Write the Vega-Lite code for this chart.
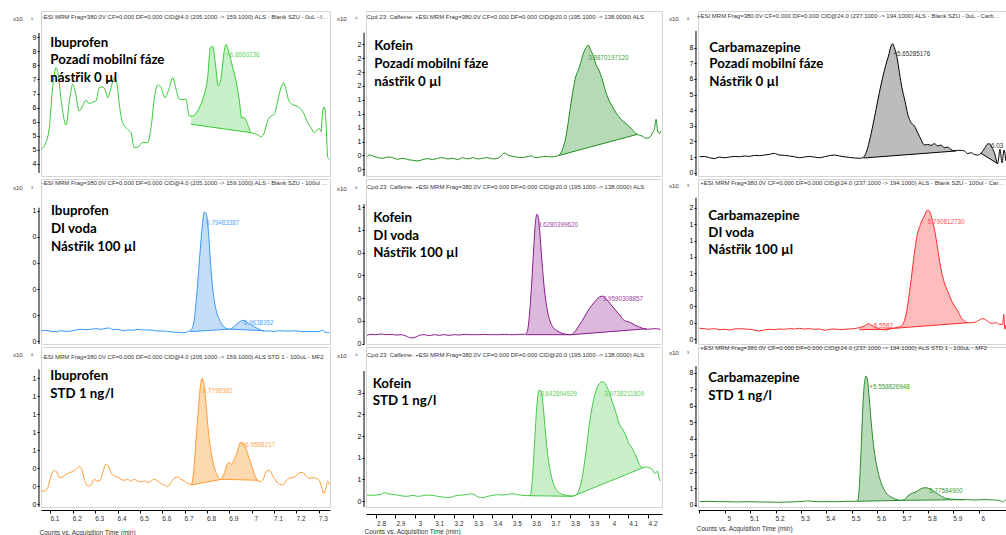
{
"$schema": "https://vega.github.io/schema/vega-lite/v6.json",
"padding": {"left": 12, "top": 10, "right": 0, "bottom": 0},
"bounds": "flush",
"columns": 3,
"spacing": {"row": 3, "column": 36},
"align": "each",
"config": {"view": {"stroke": "#d4d4d4", "strokeWidth": 1}, "font": "Liberation Sans", "axis": {"labelFont": "Liberation Sans", "titleFont": "Liberation Sans"}},
"datasets": {
"trace": [
{"p":"A","t":6.040,"v":5.02},{"p":"A","t":6.062,"v":5.26},{"p":"A","t":6.077,"v":5.79},{"p":"A","t":6.092,"v":7.21},{"p":"A","t":6.107,"v":7.92},{"p":"A","t":6.117,"v":7.68},{"p":"A","t":6.129,"v":6.85},{"p":"A","t":6.152,"v":5.88},{"p":"A","t":6.167,"v":6.73},{"p":"A","t":6.182,"v":7.33},{"p":"A","t":6.192,"v":7.09},{"p":"A","t":6.211,"v":6.38},{"p":"A","t":6.226,"v":6.56},{"p":"A","t":6.241,"v":6.76},{"p":"A","t":6.256,"v":6.64},{"p":"A","t":6.271,"v":6.70},{"p":"A","t":6.286,"v":6.73},{"p":"A","t":6.301,"v":7.21},{"p":"A","t":6.316,"v":7.23},{"p":"A","t":6.331,"v":7.03},{"p":"A","t":6.338,"v":6.85},{"p":"A","t":6.353,"v":7.21},{"p":"A","t":6.368,"v":7.56},{"p":"A","t":6.380,"v":7.33},{"p":"A","t":6.390,"v":6.62},{"p":"A","t":6.405,"v":5.97},{"p":"A","t":6.427,"v":5.73},{"p":"A","t":6.442,"v":5.61},{"p":"A","t":6.457,"v":5.08},{"p":"A","t":6.472,"v":5.10},{"p":"A","t":6.495,"v":5.26},{"p":"A","t":6.517,"v":5.26},{"p":"A","t":6.532,"v":5.79},{"p":"A","t":6.547,"v":6.85},{"p":"A","t":6.562,"v":7.30},{"p":"A","t":6.577,"v":7.21},{"p":"A","t":6.594,"v":6.85},{"p":"A","t":6.614,"v":7.21},{"p":"A","t":6.629,"v":7.56},{"p":"A","t":6.644,"v":7.15},{"p":"A","t":6.658,"v":6.79},{"p":"A","t":6.673,"v":6.79},{"p":"A","t":6.688,"v":6.79},{"p":"A","t":6.703,"v":6.20},{"p":"A","t":6.718,"v":6.20},{"p":"A","t":6.740,"v":6.38},{"p":"A","t":6.755,"v":6.62},{"p":"A","t":6.770,"v":6.97},{"p":"A","t":6.785,"v":7.56},{"p":"A","t":6.797,"v":8.63},{"p":"A","t":6.807,"v":8.68},{"p":"A","t":6.818,"v":8.15},{"p":"A","t":6.833,"v":7.27},{"p":"A","t":6.845,"v":7.56},{"p":"A","t":6.857,"v":8.39},{"p":"A","t":6.867,"v":8.74},{"p":"A","t":6.878,"v":8.51},{"p":"A","t":6.897,"v":7.92},{"p":"A","t":6.912,"v":7.44},{"p":"A","t":6.927,"v":6.73},{"p":"A","t":6.937,"v":6.14},{"p":"A","t":6.949,"v":6.14},{"p":"A","t":6.964,"v":5.91},{"p":"A","t":6.979,"v":5.61},{"p":"A","t":6.994,"v":5.58},{"p":"A","t":7.009,"v":5.53},{"p":"A","t":7.024,"v":5.46},{"p":"A","t":7.038,"v":5.61},{"p":"A","t":7.053,"v":6.02},{"p":"A","t":7.068,"v":6.20},{"p":"A","t":7.083,"v":6.26},{"p":"A","t":7.098,"v":6.73},{"p":"A","t":7.113,"v":7.21},{"p":"A","t":7.125,"v":7.38},{"p":"A","t":7.135,"v":7.15},{"p":"A","t":7.146,"v":6.79},{"p":"A","t":7.161,"v":6.62},{"p":"A","t":7.180,"v":6.56},{"p":"A","t":7.195,"v":6.50},{"p":"A","t":7.217,"v":6.26},{"p":"A","t":7.232,"v":5.97},{"p":"A","t":7.247,"v":5.79},{"p":"A","t":7.262,"v":5.61},{"p":"A","t":7.277,"v":5.73},{"p":"A","t":7.284,"v":5.76},{"p":"A","t":7.292,"v":5.65},{"p":"A","t":7.299,"v":6.38},{"p":"A","t":7.307,"v":6.52},{"p":"A","t":7.314,"v":5.97},{"p":"A","t":7.322,"v":4.72},{"p":"A","t":7.329,"v":4.67},
{"p":"B","t":2.728,"v":0.722},{"p":"B","t":2.740,"v":0.758},{"p":"B","t":2.757,"v":0.740},{"p":"B","t":2.783,"v":0.710},{"p":"B","t":2.809,"v":0.698},{"p":"B","t":2.834,"v":0.722},{"p":"B","t":2.860,"v":0.710},{"p":"B","t":2.886,"v":0.680},{"p":"B","t":2.912,"v":0.698},{"p":"B","t":2.937,"v":0.674},{"p":"B","t":2.963,"v":0.662},{"p":"B","t":2.989,"v":0.650},{"p":"B","t":3.015,"v":0.674},{"p":"B","t":3.041,"v":0.692},{"p":"B","t":3.066,"v":0.674},{"p":"B","t":3.092,"v":0.698},{"p":"B","t":3.118,"v":0.710},{"p":"B","t":3.144,"v":0.686},{"p":"B","t":3.169,"v":0.698},{"p":"B","t":3.195,"v":0.674},{"p":"B","t":3.221,"v":0.710},{"p":"B","t":3.247,"v":0.686},{"p":"B","t":3.273,"v":0.710},{"p":"B","t":3.298,"v":0.686},{"p":"B","t":3.324,"v":0.698},{"p":"B","t":3.350,"v":0.710},{"p":"B","t":3.376,"v":0.686},{"p":"B","t":3.401,"v":0.698},{"p":"B","t":3.419,"v":0.740},{"p":"B","t":3.436,"v":0.794},{"p":"B","t":3.453,"v":0.758},{"p":"B","t":3.470,"v":0.740},{"p":"B","t":3.496,"v":0.722},{"p":"B","t":3.522,"v":0.710},{"p":"B","t":3.547,"v":0.722},{"p":"B","t":3.573,"v":0.740},{"p":"B","t":3.599,"v":0.710},{"p":"B","t":3.625,"v":0.722},{"p":"B","t":3.651,"v":0.734},{"p":"B","t":3.676,"v":0.722},{"p":"B","t":3.702,"v":0.734},{"p":"B","t":3.719,"v":0.758},{"p":"B","t":3.736,"v":0.860},{"p":"B","t":3.754,"v":1.100},{"p":"B","t":3.771,"v":1.490},{"p":"B","t":3.788,"v":1.880},{"p":"B","t":3.805,"v":2.180},{"p":"B","t":3.822,"v":2.330},{"p":"B","t":3.834,"v":2.480},{"p":"B","t":3.848,"v":2.630},{"p":"B","t":3.860,"v":2.702},{"p":"B","t":3.869,"v":2.738},{"p":"B","t":3.879,"v":2.660},{"p":"B","t":3.891,"v":2.570},{"p":"B","t":3.908,"v":2.390},{"p":"B","t":3.925,"v":2.270},{"p":"B","t":3.943,"v":2.090},{"p":"B","t":3.960,"v":1.880},{"p":"B","t":3.977,"v":1.730},{"p":"B","t":3.994,"v":1.622},{"p":"B","t":4.011,"v":1.520},{"p":"B","t":4.037,"v":1.400},{"p":"B","t":4.063,"v":1.322},{"p":"B","t":4.089,"v":1.238},{"p":"B","t":4.114,"v":1.142},{"p":"B","t":4.132,"v":1.112},{"p":"B","t":4.149,"v":1.094},{"p":"B","t":4.166,"v":1.058},{"p":"B","t":4.183,"v":1.070},{"p":"B","t":4.200,"v":1.160},{"p":"B","t":4.209,"v":1.220},{"p":"B","t":4.218,"v":1.400},{"p":"B","t":4.226,"v":1.190},{"p":"B","t":4.235,"v":1.142},{"p":"B","t":4.243,"v":1.190},
{"p":"C","t":4.885,"v":1.02},{"p":"C","t":4.904,"v":1.04},{"p":"C","t":4.924,"v":0.96},{"p":"C","t":4.944,"v":0.90},{"p":"C","t":4.963,"v":1.00},{"p":"C","t":4.983,"v":0.96},{"p":"C","t":5.003,"v":1.00},{"p":"C","t":5.022,"v":1.04},{"p":"C","t":5.042,"v":1.02},{"p":"C","t":5.062,"v":1.07},{"p":"C","t":5.081,"v":1.04},{"p":"C","t":5.101,"v":1.11},{"p":"C","t":5.121,"v":1.09},{"p":"C","t":5.140,"v":1.13},{"p":"C","t":5.160,"v":1.17},{"p":"C","t":5.180,"v":1.24},{"p":"C","t":5.199,"v":1.13},{"p":"C","t":5.219,"v":1.11},{"p":"C","t":5.239,"v":1.07},{"p":"C","t":5.259,"v":1.02},{"p":"C","t":5.278,"v":0.96},{"p":"C","t":5.298,"v":1.00},{"p":"C","t":5.318,"v":1.04},{"p":"C","t":5.337,"v":1.00},{"p":"C","t":5.357,"v":0.96},{"p":"C","t":5.377,"v":1.02},{"p":"C","t":5.396,"v":1.09},{"p":"C","t":5.416,"v":1.13},{"p":"C","t":5.436,"v":1.07},{"p":"C","t":5.455,"v":1.02},{"p":"C","t":5.475,"v":0.98},{"p":"C","t":5.495,"v":0.94},{"p":"C","t":5.514,"v":0.92},{"p":"C","t":5.528,"v":0.96},{"p":"C","t":5.541,"v":1.28},{"p":"C","t":5.554,"v":2.03},{"p":"C","t":5.567,"v":2.99},{"p":"C","t":5.580,"v":4.05},{"p":"C","t":5.593,"v":5.12},{"p":"C","t":5.606,"v":6.08},{"p":"C","t":5.619,"v":6.93},{"p":"C","t":5.629,"v":7.46},{"p":"C","t":5.639,"v":8.10},{"p":"C","t":5.646,"v":8.25},{"p":"C","t":5.652,"v":8.00},{"p":"C","t":5.663,"v":7.36},{"p":"C","t":5.672,"v":6.40},{"p":"C","t":5.682,"v":5.44},{"p":"C","t":5.694,"v":4.58},{"p":"C","t":5.705,"v":3.73},{"p":"C","t":5.718,"v":3.20},{"p":"C","t":5.731,"v":2.99},{"p":"C","t":5.744,"v":2.56},{"p":"C","t":5.757,"v":2.13},{"p":"C","t":5.770,"v":1.77},{"p":"C","t":5.783,"v":1.81},{"p":"C","t":5.797,"v":1.75},{"p":"C","t":5.810,"v":1.86},{"p":"C","t":5.823,"v":1.71},{"p":"C","t":5.836,"v":1.77},{"p":"C","t":5.849,"v":1.60},{"p":"C","t":5.862,"v":1.64},{"p":"C","t":5.875,"v":1.49},{"p":"C","t":5.888,"v":1.40},{"p":"C","t":5.902,"v":1.43},{"p":"C","t":5.915,"v":1.43},{"p":"C","t":5.928,"v":1.39},{"p":"C","t":5.941,"v":1.22},{"p":"C","t":5.954,"v":1.28},{"p":"C","t":5.967,"v":1.17},{"p":"C","t":5.980,"v":1.13},{"p":"C","t":5.993,"v":1.24},{"p":"C","t":6.007,"v":1.54},{"p":"C","t":6.017,"v":1.81},{"p":"C","t":6.026,"v":1.86},{"p":"C","t":6.035,"v":1.64},{"p":"C","t":6.046,"v":1.28},{"p":"C","t":6.059,"v":0.58},{"p":"C","t":6.068,"v":1.49},{"p":"C","t":6.076,"v":0.64},{"p":"C","t":6.084,"v":1.45},{"p":"C","t":6.091,"v":0.75},
{"p":"D","t":6.040,"v":0.077},{"p":"D","t":6.062,"v":0.082},{"p":"D","t":6.085,"v":0.074},{"p":"D","t":6.107,"v":0.072},{"p":"D","t":6.129,"v":0.079},{"p":"D","t":6.152,"v":0.074},{"p":"D","t":6.174,"v":0.077},{"p":"D","t":6.196,"v":0.085},{"p":"D","t":6.219,"v":0.090},{"p":"D","t":6.241,"v":0.087},{"p":"D","t":6.264,"v":0.090},{"p":"D","t":6.286,"v":0.095},{"p":"D","t":6.308,"v":0.090},{"p":"D","t":6.331,"v":0.097},{"p":"D","t":6.346,"v":0.100},{"p":"D","t":6.360,"v":0.087},{"p":"D","t":6.383,"v":0.090},{"p":"D","t":6.405,"v":0.079},{"p":"D","t":6.427,"v":0.085},{"p":"D","t":6.450,"v":0.082},{"p":"D","t":6.472,"v":0.090},{"p":"D","t":6.495,"v":0.085},{"p":"D","t":6.517,"v":0.085},{"p":"D","t":6.539,"v":0.082},{"p":"D","t":6.562,"v":0.077},{"p":"D","t":6.584,"v":0.077},{"p":"D","t":6.606,"v":0.074},{"p":"D","t":6.629,"v":0.069},{"p":"D","t":6.651,"v":0.067},{"p":"D","t":6.673,"v":0.064},{"p":"D","t":6.696,"v":0.072},{"p":"D","t":6.711,"v":0.085},{"p":"D","t":6.723,"v":0.141},{"p":"D","t":6.733,"v":0.295},{"p":"D","t":6.743,"v":0.500},{"p":"D","t":6.752,"v":0.705},{"p":"D","t":6.761,"v":0.885},{"p":"D","t":6.770,"v":0.992},{"p":"D","t":6.778,"v":0.982},{"p":"D","t":6.785,"v":0.910},{"p":"D","t":6.793,"v":0.731},{"p":"D","t":6.800,"v":0.551},{"p":"D","t":6.810,"v":0.372},{"p":"D","t":6.822,"v":0.244},{"p":"D","t":6.837,"v":0.167},{"p":"D","t":6.852,"v":0.121},{"p":"D","t":6.867,"v":0.097},{"p":"D","t":6.882,"v":0.090},{"p":"D","t":6.897,"v":0.103},{"p":"D","t":6.912,"v":0.128},{"p":"D","t":6.927,"v":0.146},{"p":"D","t":6.942,"v":0.159},{"p":"D","t":6.957,"v":0.149},{"p":"D","t":6.971,"v":0.133},{"p":"D","t":6.994,"v":0.110},{"p":"D","t":7.016,"v":0.090},{"p":"D","t":7.038,"v":0.077},{"p":"D","t":7.061,"v":0.077},{"p":"D","t":7.083,"v":0.074},{"p":"D","t":7.106,"v":0.079},{"p":"D","t":7.128,"v":0.077},{"p":"D","t":7.150,"v":0.077},{"p":"D","t":7.173,"v":0.079},{"p":"D","t":7.195,"v":0.074},{"p":"D","t":7.217,"v":0.072},{"p":"D","t":7.240,"v":0.074},{"p":"D","t":7.262,"v":0.072},{"p":"D","t":7.284,"v":0.074},{"p":"D","t":7.299,"v":0.082},{"p":"D","t":7.310,"v":0.069},{"p":"D","t":7.329,"v":0.064},
{"p":"E","t":2.728,"v":0.073},{"p":"E","t":2.748,"v":0.082},{"p":"E","t":2.774,"v":0.079},{"p":"E","t":2.800,"v":0.085},{"p":"E","t":2.826,"v":0.079},{"p":"E","t":2.852,"v":0.082},{"p":"E","t":2.877,"v":0.076},{"p":"E","t":2.903,"v":0.079},{"p":"E","t":2.929,"v":0.067},{"p":"E","t":2.955,"v":0.050},{"p":"E","t":2.975,"v":0.055},{"p":"E","t":2.998,"v":0.073},{"p":"E","t":3.023,"v":0.079},{"p":"E","t":3.049,"v":0.070},{"p":"E","t":3.075,"v":0.079},{"p":"E","t":3.101,"v":0.073},{"p":"E","t":3.126,"v":0.079},{"p":"E","t":3.152,"v":0.073},{"p":"E","t":3.178,"v":0.079},{"p":"E","t":3.204,"v":0.076},{"p":"E","t":3.230,"v":0.082},{"p":"E","t":3.255,"v":0.079},{"p":"E","t":3.281,"v":0.079},{"p":"E","t":3.307,"v":0.079},{"p":"E","t":3.333,"v":0.082},{"p":"E","t":3.358,"v":0.079},{"p":"E","t":3.384,"v":0.079},{"p":"E","t":3.410,"v":0.079},{"p":"E","t":3.436,"v":0.082},{"p":"E","t":3.462,"v":0.079},{"p":"E","t":3.487,"v":0.079},{"p":"E","t":3.513,"v":0.082},{"p":"E","t":3.539,"v":0.082},{"p":"E","t":3.553,"v":0.102},{"p":"E","t":3.565,"v":0.248},{"p":"E","t":3.577,"v":0.540},{"p":"E","t":3.587,"v":0.832},{"p":"E","t":3.596,"v":1.066},{"p":"E","t":3.604,"v":1.139},{"p":"E","t":3.611,"v":1.109},{"p":"E","t":3.620,"v":0.949},{"p":"E","t":3.630,"v":0.715},{"p":"E","t":3.642,"v":0.482},{"p":"E","t":3.656,"v":0.307},{"p":"E","t":3.673,"v":0.190},{"p":"E","t":3.694,"v":0.131},{"p":"E","t":3.719,"v":0.102},{"p":"E","t":3.745,"v":0.085},{"p":"E","t":3.779,"v":0.079},{"p":"E","t":3.797,"v":0.102},{"p":"E","t":3.822,"v":0.161},{"p":"E","t":3.848,"v":0.234},{"p":"E","t":3.874,"v":0.307},{"p":"E","t":3.900,"v":0.365},{"p":"E","t":3.925,"v":0.409},{"p":"E","t":3.943,"v":0.418},{"p":"E","t":3.960,"v":0.394},{"p":"E","t":3.982,"v":0.350},{"p":"E","t":4.003,"v":0.307},{"p":"E","t":4.029,"v":0.254},{"p":"E","t":4.054,"v":0.204},{"p":"E","t":4.080,"v":0.190},{"p":"E","t":4.106,"v":0.166},{"p":"E","t":4.132,"v":0.146},{"p":"E","t":4.157,"v":0.131},{"p":"E","t":4.175,"v":0.126},{"p":"E","t":4.200,"v":0.131},{"p":"E","t":4.226,"v":0.131},{"p":"E","t":4.240,"v":0.123},
{"p":"F","t":4.885,"v":0.167},{"p":"F","t":4.904,"v":0.162},{"p":"F","t":4.924,"v":0.152},{"p":"F","t":4.944,"v":0.162},{"p":"F","t":4.963,"v":0.147},{"p":"F","t":4.983,"v":0.152},{"p":"F","t":5.003,"v":0.142},{"p":"F","t":5.022,"v":0.157},{"p":"F","t":5.042,"v":0.162},{"p":"F","t":5.062,"v":0.157},{"p":"F","t":5.081,"v":0.152},{"p":"F","t":5.101,"v":0.142},{"p":"F","t":5.121,"v":0.127},{"p":"F","t":5.140,"v":0.142},{"p":"F","t":5.160,"v":0.152},{"p":"F","t":5.180,"v":0.147},{"p":"F","t":5.199,"v":0.157},{"p":"F","t":5.219,"v":0.152},{"p":"F","t":5.239,"v":0.162},{"p":"F","t":5.259,"v":0.157},{"p":"F","t":5.278,"v":0.167},{"p":"F","t":5.298,"v":0.157},{"p":"F","t":5.318,"v":0.162},{"p":"F","t":5.337,"v":0.152},{"p":"F","t":5.357,"v":0.157},{"p":"F","t":5.377,"v":0.137},{"p":"F","t":5.396,"v":0.152},{"p":"F","t":5.416,"v":0.157},{"p":"F","t":5.436,"v":0.147},{"p":"F","t":5.455,"v":0.152},{"p":"F","t":5.475,"v":0.157},{"p":"F","t":5.495,"v":0.162},{"p":"F","t":5.514,"v":0.177},{"p":"F","t":5.534,"v":0.202},{"p":"F","t":5.550,"v":0.238},{"p":"F","t":5.563,"v":0.213},{"p":"F","t":5.580,"v":0.177},{"p":"F","t":5.600,"v":0.152},{"p":"F","t":5.619,"v":0.142},{"p":"F","t":5.639,"v":0.162},{"p":"F","t":5.659,"v":0.177},{"p":"F","t":5.678,"v":0.202},{"p":"F","t":5.689,"v":0.253},{"p":"F","t":5.702,"v":0.455},{"p":"F","t":5.715,"v":0.810},{"p":"F","t":5.728,"v":1.215},{"p":"F","t":5.741,"v":1.569},{"p":"F","t":5.755,"v":1.746},{"p":"F","t":5.770,"v":1.872},{"p":"F","t":5.783,"v":1.964},{"p":"F","t":5.790,"v":1.949},{"p":"F","t":5.799,"v":1.847},{"p":"F","t":5.810,"v":1.670},{"p":"F","t":5.823,"v":1.366},{"p":"F","t":5.836,"v":1.063},{"p":"F","t":5.849,"v":0.860},{"p":"F","t":5.862,"v":0.734},{"p":"F","t":5.875,"v":0.607},{"p":"F","t":5.888,"v":0.506},{"p":"F","t":5.902,"v":0.430},{"p":"F","t":5.915,"v":0.329},{"p":"F","t":5.928,"v":0.278},{"p":"F","t":5.941,"v":0.253},{"p":"F","t":5.961,"v":0.253},{"p":"F","t":5.980,"v":0.278},{"p":"F","t":6.000,"v":0.314},{"p":"F","t":6.013,"v":0.294},{"p":"F","t":6.026,"v":0.253},{"p":"F","t":6.039,"v":0.243},{"p":"F","t":6.052,"v":0.253},{"p":"F","t":6.066,"v":0.228},{"p":"F","t":6.079,"v":0.228},{"p":"F","t":6.083,"v":0.380},{"p":"F","t":6.087,"v":0.152},{"p":"F","t":6.091,"v":0.220},
{"p":"G","t":6.040,"v":0.548},{"p":"G","t":6.055,"v":0.548},{"p":"G","t":6.070,"v":0.585},{"p":"G","t":6.085,"v":0.715},{"p":"G","t":6.100,"v":0.778},{"p":"G","t":6.112,"v":0.752},{"p":"G","t":6.122,"v":0.696},{"p":"G","t":6.137,"v":0.704},{"p":"G","t":6.152,"v":0.733},{"p":"G","t":6.167,"v":0.752},{"p":"G","t":6.182,"v":0.763},{"p":"G","t":6.196,"v":0.789},{"p":"G","t":6.211,"v":0.815},{"p":"G","t":6.222,"v":0.789},{"p":"G","t":6.234,"v":0.678},{"p":"G","t":6.249,"v":0.604},{"p":"G","t":6.264,"v":0.615},{"p":"G","t":6.278,"v":0.678},{"p":"G","t":6.290,"v":0.659},{"p":"G","t":6.305,"v":0.667},{"p":"G","t":6.316,"v":0.752},{"p":"G","t":6.331,"v":0.844},{"p":"G","t":6.341,"v":0.826},{"p":"G","t":6.353,"v":0.752},{"p":"G","t":6.368,"v":0.715},{"p":"G","t":6.383,"v":0.704},{"p":"G","t":6.398,"v":0.678},{"p":"G","t":6.413,"v":0.667},{"p":"G","t":6.427,"v":0.678},{"p":"G","t":6.442,"v":0.659},{"p":"G","t":6.457,"v":0.678},{"p":"G","t":6.472,"v":0.659},{"p":"G","t":6.487,"v":0.648},{"p":"G","t":6.502,"v":0.659},{"p":"G","t":6.517,"v":0.641},{"p":"G","t":6.532,"v":0.659},{"p":"G","t":6.547,"v":0.678},{"p":"G","t":6.562,"v":0.659},{"p":"G","t":6.577,"v":0.630},{"p":"G","t":6.591,"v":0.615},{"p":"G","t":6.606,"v":0.596},{"p":"G","t":6.621,"v":0.641},{"p":"G","t":6.636,"v":0.689},{"p":"G","t":6.651,"v":0.704},{"p":"G","t":6.666,"v":0.678},{"p":"G","t":6.681,"v":0.659},{"p":"G","t":6.696,"v":0.630},{"p":"G","t":6.711,"v":0.622},{"p":"G","t":6.723,"v":0.770},{"p":"G","t":6.733,"v":1.104},{"p":"G","t":6.743,"v":1.437},{"p":"G","t":6.752,"v":1.696},{"p":"G","t":6.760,"v":1.800},{"p":"G","t":6.767,"v":1.752},{"p":"G","t":6.778,"v":1.511},{"p":"G","t":6.788,"v":1.215},{"p":"G","t":6.800,"v":0.993},{"p":"G","t":6.815,"v":0.807},{"p":"G","t":6.830,"v":0.715},{"p":"G","t":6.845,"v":0.678},{"p":"G","t":6.860,"v":0.752},{"p":"G","t":6.872,"v":0.844},{"p":"G","t":6.882,"v":0.863},{"p":"G","t":6.892,"v":0.844},{"p":"G","t":6.904,"v":0.900},{"p":"G","t":6.919,"v":0.993},{"p":"G","t":6.931,"v":1.085},{"p":"G","t":6.942,"v":1.085},{"p":"G","t":6.952,"v":1.048},{"p":"G","t":6.967,"v":0.937},{"p":"G","t":6.982,"v":0.826},{"p":"G","t":6.997,"v":0.715},{"p":"G","t":7.009,"v":0.667},{"p":"G","t":7.021,"v":0.652},{"p":"G","t":7.036,"v":0.696},{"p":"G","t":7.046,"v":0.763},{"p":"G","t":7.061,"v":0.778},{"p":"G","t":7.076,"v":0.715},{"p":"G","t":7.091,"v":0.659},{"p":"G","t":7.106,"v":0.622},{"p":"G","t":7.120,"v":0.615},{"p":"G","t":7.135,"v":0.659},{"p":"G","t":7.150,"v":0.689},{"p":"G","t":7.165,"v":0.696},{"p":"G","t":7.180,"v":0.715},{"p":"G","t":7.195,"v":0.752},{"p":"G","t":7.210,"v":0.752},{"p":"G","t":7.225,"v":0.715},{"p":"G","t":7.240,"v":0.689},{"p":"G","t":7.255,"v":0.696},{"p":"G","t":7.269,"v":0.689},{"p":"G","t":7.284,"v":0.667},{"p":"G","t":7.295,"v":0.585},{"p":"G","t":7.304,"v":0.519},{"p":"G","t":7.314,"v":0.585},{"p":"G","t":7.322,"v":0.659},{"p":"G","t":7.329,"v":0.615},
{"p":"H","t":2.728,"v":0.638},{"p":"H","t":2.748,"v":0.631},{"p":"H","t":2.774,"v":0.638},{"p":"H","t":2.800,"v":0.654},{"p":"H","t":2.817,"v":0.692},{"p":"H","t":2.834,"v":0.669},{"p":"H","t":2.860,"v":0.654},{"p":"H","t":2.886,"v":0.638},{"p":"H","t":2.912,"v":0.615},{"p":"H","t":2.937,"v":0.608},{"p":"H","t":2.963,"v":0.631},{"p":"H","t":2.989,"v":0.608},{"p":"H","t":3.015,"v":0.623},{"p":"H","t":3.041,"v":0.638},{"p":"H","t":3.066,"v":0.631},{"p":"H","t":3.092,"v":0.608},{"p":"H","t":3.118,"v":0.592},{"p":"H","t":3.144,"v":0.577},{"p":"H","t":3.169,"v":0.600},{"p":"H","t":3.195,"v":0.631},{"p":"H","t":3.221,"v":0.638},{"p":"H","t":3.247,"v":0.654},{"p":"H","t":3.267,"v":0.669},{"p":"H","t":3.285,"v":0.638},{"p":"H","t":3.302,"v":0.592},{"p":"H","t":3.324,"v":0.577},{"p":"H","t":3.350,"v":0.608},{"p":"H","t":3.376,"v":0.631},{"p":"H","t":3.401,"v":0.646},{"p":"H","t":3.427,"v":0.638},{"p":"H","t":3.453,"v":0.654},{"p":"H","t":3.479,"v":0.669},{"p":"H","t":3.504,"v":0.646},{"p":"H","t":3.530,"v":0.631},{"p":"H","t":3.556,"v":0.623},{"p":"H","t":3.570,"v":0.638},{"p":"H","t":3.582,"v":1.115},{"p":"H","t":3.594,"v":2.038},{"p":"H","t":3.604,"v":2.731},{"p":"H","t":3.614,"v":3.054},{"p":"H","t":3.625,"v":3.038},{"p":"H","t":3.635,"v":2.731},{"p":"H","t":3.647,"v":2.115},{"p":"H","t":3.659,"v":1.577},{"p":"H","t":3.676,"v":1.115},{"p":"H","t":3.693,"v":0.846},{"p":"H","t":3.714,"v":0.715},{"p":"H","t":3.736,"v":0.654},{"p":"H","t":3.762,"v":0.623},{"p":"H","t":3.788,"v":0.615},{"p":"H","t":3.805,"v":0.638},{"p":"H","t":3.822,"v":0.769},{"p":"H","t":3.840,"v":1.115},{"p":"H","t":3.857,"v":1.654},{"p":"H","t":3.874,"v":2.269},{"p":"H","t":3.891,"v":2.731},{"p":"H","t":3.908,"v":3.038},{"p":"H","t":3.925,"v":3.208},{"p":"H","t":3.943,"v":3.254},{"p":"H","t":3.960,"v":3.177},{"p":"H","t":3.977,"v":3.000},{"p":"H","t":3.994,"v":2.769},{"p":"H","t":4.011,"v":2.538},{"p":"H","t":4.029,"v":2.269},{"p":"H","t":4.046,"v":2.154},{"p":"H","t":4.063,"v":2.000},{"p":"H","t":4.080,"v":1.808},{"p":"H","t":4.098,"v":1.692},{"p":"H","t":4.115,"v":1.538},{"p":"H","t":4.132,"v":1.346},{"p":"H","t":4.149,"v":1.265},{"p":"H","t":4.166,"v":1.285},{"p":"H","t":4.183,"v":1.269},{"p":"H","t":4.201,"v":1.215},{"p":"H","t":4.210,"v":1.131},{"p":"H","t":4.218,"v":1.154},{"p":"H","t":4.225,"v":1.192},{"p":"H","t":4.231,"v":1.077},{"p":"H","t":4.240,"v":0.962},
{"p":"I","t":4.885,"v":0.202},{"p":"I","t":4.917,"v":0.222},{"p":"I","t":4.957,"v":0.202},{"p":"I","t":4.996,"v":0.202},{"p":"I","t":5.035,"v":0.181},{"p":"I","t":5.075,"v":0.202},{"p":"I","t":5.114,"v":0.181},{"p":"I","t":5.154,"v":0.181},{"p":"I","t":5.193,"v":0.161},{"p":"I","t":5.232,"v":0.181},{"p":"I","t":5.272,"v":0.202},{"p":"I","t":5.311,"v":0.242},{"p":"I","t":5.350,"v":0.202},{"p":"I","t":5.390,"v":0.202},{"p":"I","t":5.429,"v":0.202},{"p":"I","t":5.469,"v":0.222},{"p":"I","t":5.495,"v":0.222},{"p":"I","t":5.508,"v":0.282},{"p":"I","t":5.514,"v":1.048},{"p":"I","t":5.521,"v":3.266},{"p":"I","t":5.528,"v":5.887},{"p":"I","t":5.534,"v":7.298},{"p":"I","t":5.541,"v":7.802},{"p":"I","t":5.547,"v":7.500},{"p":"I","t":5.554,"v":6.290},{"p":"I","t":5.563,"v":4.677},{"p":"I","t":5.573,"v":3.266},{"p":"I","t":5.587,"v":2.056},{"p":"I","t":5.600,"v":1.351},{"p":"I","t":5.619,"v":0.746},{"p":"I","t":5.639,"v":0.484},{"p":"I","t":5.659,"v":0.343},{"p":"I","t":5.678,"v":0.282},{"p":"I","t":5.692,"v":0.323},{"p":"I","t":5.705,"v":0.544},{"p":"I","t":5.724,"v":0.726},{"p":"I","t":5.744,"v":0.847},{"p":"I","t":5.760,"v":1.008},{"p":"I","t":5.777,"v":1.048},{"p":"I","t":5.790,"v":0.988},{"p":"I","t":5.803,"v":0.887},{"p":"I","t":5.816,"v":0.746},{"p":"I","t":5.829,"v":0.605},{"p":"I","t":5.849,"v":0.444},{"p":"I","t":5.869,"v":0.363},{"p":"I","t":5.888,"v":0.343},{"p":"I","t":5.915,"v":0.323},{"p":"I","t":5.941,"v":0.323},{"p":"I","t":5.967,"v":0.302},{"p":"I","t":5.993,"v":0.323},{"p":"I","t":6.020,"v":0.323},{"p":"I","t":6.046,"v":0.302},{"p":"I","t":6.066,"v":0.282},{"p":"I","t":6.079,"v":0.181},{"p":"I","t":6.085,"v":0.242},{"p":"I","t":6.091,"v":0.323}
],
"areas": [
{"p":"A","k":"A1","t":6.711,"v":6.20,"b":5.91},{"p":"A","k":"A1","t":6.718,"v":6.20,"b":5.90},{"p":"A","k":"A1","t":6.740,"v":6.38,"b":5.88},{"p":"A","k":"A1","t":6.755,"v":6.62,"b":5.86},{"p":"A","k":"A1","t":6.770,"v":6.97,"b":5.84},{"p":"A","k":"A1","t":6.785,"v":7.56,"b":5.83},{"p":"A","k":"A1","t":6.797,"v":8.63,"b":5.81},{"p":"A","k":"A1","t":6.807,"v":8.68,"b":5.80},{"p":"A","k":"A1","t":6.818,"v":8.15,"b":5.79},{"p":"A","k":"A1","t":6.833,"v":7.27,"b":5.77},{"p":"A","k":"A1","t":6.845,"v":7.56,"b":5.76},{"p":"A","k":"A1","t":6.857,"v":8.39,"b":5.75},{"p":"A","k":"A1","t":6.867,"v":8.74,"b":5.74},{"p":"A","k":"A1","t":6.878,"v":8.51,"b":5.72},{"p":"A","k":"A1","t":6.897,"v":7.92,"b":5.70},{"p":"A","k":"A1","t":6.912,"v":7.44,"b":5.69},{"p":"A","k":"A1","t":6.927,"v":6.73,"b":5.67},{"p":"A","k":"A1","t":6.937,"v":6.14,"b":5.66},{"p":"A","k":"A1","t":6.949,"v":6.14,"b":5.64},{"p":"A","k":"A1","t":6.964,"v":5.91,"b":5.63},{"p":"A","k":"A1","t":6.979,"v":5.61,"b":5.61},
{"p":"B","k":"B1","t":3.714,"v":0.745,"b":0.745},{"p":"B","k":"B1","t":3.719,"v":0.758,"b":0.750},{"p":"B","k":"B1","t":3.736,"v":0.860,"b":0.766},{"p":"B","k":"B1","t":3.754,"v":1.100,"b":0.782},{"p":"B","k":"B1","t":3.771,"v":1.490,"b":0.798},{"p":"B","k":"B1","t":3.788,"v":1.880,"b":0.815},{"p":"B","k":"B1","t":3.805,"v":2.180,"b":0.831},{"p":"B","k":"B1","t":3.822,"v":2.330,"b":0.847},{"p":"B","k":"B1","t":3.834,"v":2.480,"b":0.858},{"p":"B","k":"B1","t":3.848,"v":2.630,"b":0.871},{"p":"B","k":"B1","t":3.860,"v":2.702,"b":0.882},{"p":"B","k":"B1","t":3.869,"v":2.738,"b":0.891},{"p":"B","k":"B1","t":3.879,"v":2.660,"b":0.900},{"p":"B","k":"B1","t":3.891,"v":2.570,"b":0.912},{"p":"B","k":"B1","t":3.908,"v":2.390,"b":0.928},{"p":"B","k":"B1","t":3.925,"v":2.270,"b":0.944},{"p":"B","k":"B1","t":3.943,"v":2.090,"b":0.960},{"p":"B","k":"B1","t":3.960,"v":1.880,"b":0.976},{"p":"B","k":"B1","t":3.977,"v":1.730,"b":0.992},{"p":"B","k":"B1","t":3.994,"v":1.622,"b":1.009},{"p":"B","k":"B1","t":4.011,"v":1.520,"b":1.025},{"p":"B","k":"B1","t":4.037,"v":1.400,"b":1.049},{"p":"B","k":"B1","t":4.063,"v":1.322,"b":1.073},{"p":"B","k":"B1","t":4.089,"v":1.238,"b":1.098},{"p":"B","k":"B1","t":4.114,"v":1.142,"b":1.122},{"p":"B","k":"B1","t":4.123,"v":1.130,"b":1.130},
{"p":"C","k":"C1","t":5.531,"v":0.94,"b":0.94},{"p":"C","k":"C1","t":5.541,"v":1.28,"b":0.951},{"p":"C","k":"C1","t":5.554,"v":2.03,"b":0.968},{"p":"C","k":"C1","t":5.567,"v":2.99,"b":0.984},{"p":"C","k":"C1","t":5.580,"v":4.05,"b":1.000},{"p":"C","k":"C1","t":5.593,"v":5.12,"b":1.016},{"p":"C","k":"C1","t":5.606,"v":6.08,"b":1.033},{"p":"C","k":"C1","t":5.619,"v":6.93,"b":1.049},{"p":"C","k":"C1","t":5.629,"v":7.46,"b":1.060},{"p":"C","k":"C1","t":5.639,"v":8.10,"b":1.073},{"p":"C","k":"C1","t":5.646,"v":8.25,"b":1.081},{"p":"C","k":"C1","t":5.652,"v":8.00,"b":1.089},{"p":"C","k":"C1","t":5.663,"v":7.36,"b":1.102},{"p":"C","k":"C1","t":5.672,"v":6.40,"b":1.114},{"p":"C","k":"C1","t":5.682,"v":5.44,"b":1.127},{"p":"C","k":"C1","t":5.694,"v":4.58,"b":1.141},{"p":"C","k":"C1","t":5.705,"v":3.73,"b":1.154},{"p":"C","k":"C1","t":5.718,"v":3.20,"b":1.171},{"p":"C","k":"C1","t":5.731,"v":2.99,"b":1.187},{"p":"C","k":"C1","t":5.744,"v":2.56,"b":1.203},{"p":"C","k":"C1","t":5.757,"v":2.13,"b":1.219},{"p":"C","k":"C1","t":5.770,"v":1.77,"b":1.236},{"p":"C","k":"C1","t":5.783,"v":1.81,"b":1.252},{"p":"C","k":"C1","t":5.797,"v":1.75,"b":1.268},{"p":"C","k":"C1","t":5.810,"v":1.86,"b":1.284},{"p":"C","k":"C1","t":5.823,"v":1.71,"b":1.301},{"p":"C","k":"C1","t":5.836,"v":1.77,"b":1.317},{"p":"C","k":"C1","t":5.849,"v":1.60,"b":1.333},{"p":"C","k":"C1","t":5.862,"v":1.64,"b":1.349},{"p":"C","k":"C1","t":5.875,"v":1.49,"b":1.366},{"p":"C","k":"C1","t":5.888,"v":1.40,"b":1.382},{"p":"C","k":"C1","t":5.895,"v":1.39,"b":1.39},
{"p":"C","k":"C2","t":5.993,"v":1.24,"b":1.24},{"p":"C","k":"C2","t":6.007,"v":1.54,"b":1.10},{"p":"C","k":"C2","t":6.017,"v":1.81,"b":1.00},{"p":"C","k":"C2","t":6.026,"v":1.86,"b":0.91},{"p":"C","k":"C2","t":6.035,"v":1.64,"b":0.82},{"p":"C","k":"C2","t":6.046,"v":1.28,"b":0.71},{"p":"C","k":"C2","t":6.059,"v":0.58,"b":0.58},
{"p":"D","k":"D1","t":6.706,"v":0.074,"b":0.072},{"p":"D","k":"D1","t":6.711,"v":0.085,"b":0.072},{"p":"D","k":"D1","t":6.723,"v":0.141,"b":0.073},{"p":"D","k":"D1","t":6.733,"v":0.295,"b":0.074},{"p":"D","k":"D1","t":6.743,"v":0.500,"b":0.075},{"p":"D","k":"D1","t":6.752,"v":0.705,"b":0.076},{"p":"D","k":"D1","t":6.761,"v":0.885,"b":0.077},{"p":"D","k":"D1","t":6.770,"v":0.992,"b":0.078},{"p":"D","k":"D1","t":6.778,"v":0.982,"b":0.079},{"p":"D","k":"D1","t":6.785,"v":0.910,"b":0.080},{"p":"D","k":"D1","t":6.793,"v":0.731,"b":0.081},{"p":"D","k":"D1","t":6.800,"v":0.551,"b":0.082},{"p":"D","k":"D1","t":6.810,"v":0.372,"b":0.083},{"p":"D","k":"D1","t":6.822,"v":0.244,"b":0.084},{"p":"D","k":"D1","t":6.837,"v":0.167,"b":0.086},{"p":"D","k":"D1","t":6.852,"v":0.121,"b":0.088},{"p":"D","k":"D1","t":6.867,"v":0.097,"b":0.090},{"p":"D","k":"D1","t":6.882,"v":0.090,"b":0.092},{"p":"D","k":"D1","t":6.886,"v":0.092,"b":0.092},
{"p":"D","k":"D2","t":6.886,"v":0.092,"b":0.092},{"p":"D","k":"D2","t":6.897,"v":0.103,"b":0.091},{"p":"D","k":"D2","t":6.912,"v":0.128,"b":0.090},{"p":"D","k":"D2","t":6.927,"v":0.146,"b":0.089},{"p":"D","k":"D2","t":6.942,"v":0.159,"b":0.087},{"p":"D","k":"D2","t":6.957,"v":0.149,"b":0.086},{"p":"D","k":"D2","t":6.971,"v":0.133,"b":0.085},{"p":"D","k":"D2","t":6.994,"v":0.110,"b":0.083},{"p":"D","k":"D2","t":7.016,"v":0.090,"b":0.081},{"p":"D","k":"D2","t":7.038,"v":0.079,"b":0.079},
{"p":"E","k":"E1","t":3.547,"v":0.079,"b":0.079},{"p":"E","k":"E1","t":3.553,"v":0.102,"b":0.079},{"p":"E","k":"E1","t":3.565,"v":0.248,"b":0.079},{"p":"E","k":"E1","t":3.577,"v":0.540,"b":0.079},{"p":"E","k":"E1","t":3.587,"v":0.832,"b":0.079},{"p":"E","k":"E1","t":3.596,"v":1.066,"b":0.079},{"p":"E","k":"E1","t":3.604,"v":1.139,"b":0.079},{"p":"E","k":"E1","t":3.611,"v":1.109,"b":0.079},{"p":"E","k":"E1","t":3.620,"v":0.949,"b":0.079},{"p":"E","k":"E1","t":3.630,"v":0.715,"b":0.079},{"p":"E","k":"E1","t":3.642,"v":0.482,"b":0.079},{"p":"E","k":"E1","t":3.656,"v":0.307,"b":0.079},{"p":"E","k":"E1","t":3.673,"v":0.190,"b":0.079},{"p":"E","k":"E1","t":3.694,"v":0.131,"b":0.079},{"p":"E","k":"E1","t":3.719,"v":0.102,"b":0.079},{"p":"E","k":"E1","t":3.745,"v":0.085,"b":0.079},{"p":"E","k":"E1","t":3.779,"v":0.079,"b":0.079},{"p":"E","k":"E1","t":3.783,"v":0.080,"b":0.079},
{"p":"E","k":"E2","t":3.783,"v":0.080,"b":0.079},{"p":"E","k":"E2","t":3.797,"v":0.102,"b":0.081},{"p":"E","k":"E2","t":3.822,"v":0.161,"b":0.084},{"p":"E","k":"E2","t":3.848,"v":0.234,"b":0.088},{"p":"E","k":"E2","t":3.874,"v":0.307,"b":0.091},{"p":"E","k":"E2","t":3.900,"v":0.365,"b":0.095},{"p":"E","k":"E2","t":3.925,"v":0.409,"b":0.098},{"p":"E","k":"E2","t":3.943,"v":0.418,"b":0.100},{"p":"E","k":"E2","t":3.960,"v":0.394,"b":0.103},{"p":"E","k":"E2","t":3.982,"v":0.350,"b":0.106},{"p":"E","k":"E2","t":4.003,"v":0.307,"b":0.108},{"p":"E","k":"E2","t":4.029,"v":0.254,"b":0.112},{"p":"E","k":"E2","t":4.054,"v":0.204,"b":0.115},{"p":"E","k":"E2","t":4.080,"v":0.190,"b":0.119},{"p":"E","k":"E2","t":4.106,"v":0.166,"b":0.122},{"p":"E","k":"E2","t":4.132,"v":0.146,"b":0.126},{"p":"E","k":"E2","t":4.157,"v":0.131,"b":0.129},{"p":"E","k":"E2","t":4.170,"v":0.131,"b":0.131},
{"p":"F","k":"F1","t":5.514,"v":0.177,"b":0.147},{"p":"F","k":"F1","t":5.534,"v":0.202,"b":0.148},{"p":"F","k":"F1","t":5.550,"v":0.238,"b":0.149},{"p":"F","k":"F1","t":5.563,"v":0.213,"b":0.150},{"p":"F","k":"F1","t":5.580,"v":0.177,"b":0.151},{"p":"F","k":"F1","t":5.600,"v":0.152,"b":0.152},
{"p":"F","k":"F2","t":5.659,"v":0.177,"b":0.169},{"p":"F","k":"F2","t":5.678,"v":0.202,"b":0.175},{"p":"F","k":"F2","t":5.689,"v":0.253,"b":0.178},{"p":"F","k":"F2","t":5.702,"v":0.455,"b":0.182},{"p":"F","k":"F2","t":5.715,"v":0.810,"b":0.186},{"p":"F","k":"F2","t":5.728,"v":1.215,"b":0.190},{"p":"F","k":"F2","t":5.741,"v":1.569,"b":0.193},{"p":"F","k":"F2","t":5.755,"v":1.746,"b":0.197},{"p":"F","k":"F2","t":5.770,"v":1.872,"b":0.202},{"p":"F","k":"F2","t":5.783,"v":1.964,"b":0.206},{"p":"F","k":"F2","t":5.790,"v":1.949,"b":0.208},{"p":"F","k":"F2","t":5.799,"v":1.847,"b":0.210},{"p":"F","k":"F2","t":5.810,"v":1.670,"b":0.214},{"p":"F","k":"F2","t":5.823,"v":1.366,"b":0.217},{"p":"F","k":"F2","t":5.836,"v":1.063,"b":0.221},{"p":"F","k":"F2","t":5.849,"v":0.860,"b":0.225},{"p":"F","k":"F2","t":5.862,"v":0.734,"b":0.229},{"p":"F","k":"F2","t":5.875,"v":0.607,"b":0.233},{"p":"F","k":"F2","t":5.888,"v":0.506,"b":0.236},{"p":"F","k":"F2","t":5.902,"v":0.430,"b":0.240},{"p":"F","k":"F2","t":5.915,"v":0.329,"b":0.244},{"p":"F","k":"F2","t":5.928,"v":0.278,"b":0.248},{"p":"F","k":"F2","t":5.941,"v":0.253,"b":0.252},
{"p":"G","k":"G1","t":6.711,"v":0.622,"b":0.615},{"p":"G","k":"G1","t":6.723,"v":0.770,"b":0.620},{"p":"G","k":"G1","t":6.733,"v":1.104,"b":0.625},{"p":"G","k":"G1","t":6.743,"v":1.437,"b":0.630},{"p":"G","k":"G1","t":6.752,"v":1.696,"b":0.634},{"p":"G","k":"G1","t":6.760,"v":1.800,"b":0.638},{"p":"G","k":"G1","t":6.767,"v":1.752,"b":0.641},{"p":"G","k":"G1","t":6.778,"v":1.511,"b":0.646},{"p":"G","k":"G1","t":6.788,"v":1.215,"b":0.651},{"p":"G","k":"G1","t":6.800,"v":0.993,"b":0.656},{"p":"G","k":"G1","t":6.815,"v":0.807,"b":0.663},{"p":"G","k":"G1","t":6.830,"v":0.715,"b":0.670},{"p":"G","k":"G1","t":6.845,"v":0.678,"b":0.676},{"p":"G","k":"G1","t":6.848,"v":0.680,"b":0.678},
{"p":"G","k":"G2","t":6.848,"v":0.690,"b":0.678},{"p":"G","k":"G2","t":6.860,"v":0.752,"b":0.677},{"p":"G","k":"G2","t":6.872,"v":0.844,"b":0.677},{"p":"G","k":"G2","t":6.882,"v":0.863,"b":0.676},{"p":"G","k":"G2","t":6.892,"v":0.844,"b":0.675},{"p":"G","k":"G2","t":6.904,"v":0.900,"b":0.674},{"p":"G","k":"G2","t":6.919,"v":0.993,"b":0.673},{"p":"G","k":"G2","t":6.931,"v":1.085,"b":0.672},{"p":"G","k":"G2","t":6.942,"v":1.085,"b":0.671},{"p":"G","k":"G2","t":6.952,"v":1.048,"b":0.671},{"p":"G","k":"G2","t":6.967,"v":0.937,"b":0.670},{"p":"G","k":"G2","t":6.982,"v":0.826,"b":0.669},{"p":"G","k":"G2","t":6.997,"v":0.715,"b":0.668},{"p":"G","k":"G2","t":7.012,"v":0.667,"b":0.667},
{"p":"H","k":"H1","t":3.565,"v":0.630,"b":0.623},{"p":"H","k":"H1","t":3.570,"v":0.638,"b":0.623},{"p":"H","k":"H1","t":3.582,"v":1.115,"b":0.622},{"p":"H","k":"H1","t":3.594,"v":2.038,"b":0.621},{"p":"H","k":"H1","t":3.604,"v":2.731,"b":0.621},{"p":"H","k":"H1","t":3.614,"v":3.054,"b":0.620},{"p":"H","k":"H1","t":3.625,"v":3.038,"b":0.620},{"p":"H","k":"H1","t":3.635,"v":2.731,"b":0.619},{"p":"H","k":"H1","t":3.647,"v":2.115,"b":0.618},{"p":"H","k":"H1","t":3.659,"v":1.577,"b":0.618},{"p":"H","k":"H1","t":3.676,"v":1.115,"b":0.617},{"p":"H","k":"H1","t":3.693,"v":0.846,"b":0.616},{"p":"H","k":"H1","t":3.714,"v":0.715,"b":0.615},{"p":"H","k":"H1","t":3.736,"v":0.654,"b":0.613},{"p":"H","k":"H1","t":3.762,"v":0.623,"b":0.611},{"p":"H","k":"H1","t":3.788,"v":0.615,"b":0.608},
{"p":"H","k":"H2","t":3.788,"v":0.615,"b":0.608},{"p":"H","k":"H2","t":3.805,"v":0.638,"b":0.638},{"p":"H","k":"H2","t":3.822,"v":0.769,"b":0.671},{"p":"H","k":"H2","t":3.840,"v":1.115,"b":0.702},{"p":"H","k":"H2","t":3.857,"v":1.654,"b":0.734},{"p":"H","k":"H2","t":3.874,"v":2.269,"b":0.765},{"p":"H","k":"H2","t":3.891,"v":2.731,"b":0.797},{"p":"H","k":"H2","t":3.908,"v":3.038,"b":0.828},{"p":"H","k":"H2","t":3.925,"v":3.208,"b":0.860},{"p":"H","k":"H2","t":3.943,"v":3.254,"b":0.891},{"p":"H","k":"H2","t":3.960,"v":3.177,"b":0.923},{"p":"H","k":"H2","t":3.977,"v":3.000,"b":0.954},{"p":"H","k":"H2","t":3.994,"v":2.769,"b":0.986},{"p":"H","k":"H2","t":4.011,"v":2.538,"b":1.017},{"p":"H","k":"H2","t":4.029,"v":2.269,"b":1.049},{"p":"H","k":"H2","t":4.046,"v":2.154,"b":1.080},{"p":"H","k":"H2","t":4.063,"v":2.000,"b":1.112},{"p":"H","k":"H2","t":4.080,"v":1.808,"b":1.143},{"p":"H","k":"H2","t":4.098,"v":1.692,"b":1.175},{"p":"H","k":"H2","t":4.115,"v":1.538,"b":1.206},{"p":"H","k":"H2","t":4.132,"v":1.346,"b":1.238},{"p":"H","k":"H2","t":4.149,"v":1.265,"b":1.265},
{"p":"I","k":"I1","t":5.505,"v":0.222,"b":0.222},{"p":"I","k":"I1","t":5.508,"v":0.282,"b":0.223},{"p":"I","k":"I1","t":5.514,"v":1.048,"b":0.225},{"p":"I","k":"I1","t":5.521,"v":3.266,"b":0.227},{"p":"I","k":"I1","t":5.528,"v":5.887,"b":0.230},{"p":"I","k":"I1","t":5.534,"v":7.298,"b":0.232},{"p":"I","k":"I1","t":5.541,"v":7.802,"b":0.234},{"p":"I","k":"I1","t":5.547,"v":7.500,"b":0.236},{"p":"I","k":"I1","t":5.554,"v":6.290,"b":0.238},{"p":"I","k":"I1","t":5.563,"v":4.677,"b":0.241},{"p":"I","k":"I1","t":5.573,"v":3.266,"b":0.245},{"p":"I","k":"I1","t":5.587,"v":2.056,"b":0.249},{"p":"I","k":"I1","t":5.600,"v":1.351,"b":0.253},{"p":"I","k":"I1","t":5.619,"v":0.746,"b":0.260},{"p":"I","k":"I1","t":5.639,"v":0.484,"b":0.267},{"p":"I","k":"I1","t":5.659,"v":0.343,"b":0.273},{"p":"I","k":"I1","t":5.678,"v":0.282,"b":0.280},{"p":"I","k":"I1","t":5.685,"v":0.290,"b":0.282},
{"p":"I","k":"I2","t":5.685,"v":0.290,"b":0.282},{"p":"I","k":"I2","t":5.692,"v":0.323,"b":0.283},{"p":"I","k":"I2","t":5.705,"v":0.544,"b":0.285},{"p":"I","k":"I2","t":5.724,"v":0.726,"b":0.288},{"p":"I","k":"I2","t":5.744,"v":0.847,"b":0.292},{"p":"I","k":"I2","t":5.760,"v":1.008,"b":0.294},{"p":"I","k":"I2","t":5.777,"v":1.048,"b":0.297},{"p":"I","k":"I2","t":5.790,"v":0.988,"b":0.299},{"p":"I","k":"I2","t":5.803,"v":0.887,"b":0.302},{"p":"I","k":"I2","t":5.816,"v":0.746,"b":0.304},{"p":"I","k":"I2","t":5.829,"v":0.605,"b":0.306},{"p":"I","k":"I2","t":5.849,"v":0.444,"b":0.310},{"p":"I","k":"I2","t":5.869,"v":0.363,"b":0.313},{"p":"I","k":"I2","t":5.888,"v":0.343,"b":0.316},{"p":"I","k":"I2","t":5.915,"v":0.323,"b":0.321},{"p":"I","k":"I2","t":5.928,"v":0.323,"b":0.323}
],
"base": [
{"p":"A","k":"A1","t":6.711,"v":5.91},{"p":"A","k":"A1","t":6.979,"v":5.61},
{"p":"B","k":"B1","t":3.714,"v":0.745},{"p":"B","k":"B1","t":4.123,"v":1.130},
{"p":"C","k":"C1","t":5.531,"v":0.94},{"p":"C","k":"C1","t":5.895,"v":1.39},{"p":"C","k":"C2","t":5.993,"v":1.24},{"p":"C","k":"C2","t":6.059,"v":0.58},
{"p":"D","k":"D1","t":6.706,"v":0.072},{"p":"D","k":"D1","t":6.886,"v":0.092},{"p":"D","k":"D2","t":6.886,"v":0.092},{"p":"D","k":"D2","t":7.038,"v":0.079},
{"p":"E","k":"E1","t":3.547,"v":0.079},{"p":"E","k":"E1","t":3.783,"v":0.079},{"p":"E","k":"E2","t":3.783,"v":0.079},{"p":"E","k":"E2","t":4.170,"v":0.131},
{"p":"F","k":"F1","t":5.514,"v":0.147},{"p":"F","k":"F1","t":5.600,"v":0.152},{"p":"F","k":"F2","t":5.600,"v":0.152},{"p":"F","k":"F2","t":5.941,"v":0.252},
{"p":"G","k":"G1","t":6.711,"v":0.615},{"p":"G","k":"G1","t":6.848,"v":0.678},{"p":"G","k":"G2","t":6.848,"v":0.678},{"p":"G","k":"G2","t":7.012,"v":0.667},
{"p":"H","k":"H1","t":3.565,"v":0.623},{"p":"H","k":"H1","t":3.788,"v":0.608},{"p":"H","k":"H2","t":3.788,"v":0.608},{"p":"H","k":"H2","t":4.149,"v":1.265},
{"p":"I","k":"I1","t":5.505,"v":0.222},{"p":"I","k":"I1","t":5.685,"v":0.282},{"p":"I","k":"I2","t":5.685,"v":0.282},{"p":"I","k":"I2","t":5.928,"v":0.323}
],
"axl": [
{"p":"A","t":6.031,"v":4.181,"v2":9.145},{"p":"B","t":2.7124,"v":0.379,"v2":2.958},{"p":"C","t":4.8712,"v":-0.211,"v2":9.066},
{"p":"D","t":6.031,"v":-0.023,"v2":1.025},{"p":"E","t":2.7124,"v":-0.003,"v2":1.226},{"p":"F","t":4.8712,"v":-0.071,"v2":2.150},
{"p":"G","t":6.031,"v":0.370,"v2":1.90},{"p":"H","t":2.7124,"v":0.362,"v2":3.5},{"p":"I","t":4.8712,"v":-0.121,"v2":8.41}
],
"txt": [
{"p":"A","k":"n","t":6.0431,"v":9.730,"s":"-ESI MRM Frag=380.0V CF=0.000 DF=0.000 CID@4.0 (205.1000 -> 159.1000) ALS - Blank SZU - 0uL - Ibuprofen"},
{"p":"A","k":"n","t":5.9148,"v":9.642,"s":"x10\u00a0\u00a0\u00a0\u00a0\u00a0¹"},
{"p":"A","k":"t","t":6.0816,"v":8.801,"s":"Ibuprofen"},{"p":"A","k":"t","t":6.0816,"v":8.177,"s":"Pozadí mobilní fáze"},{"p":"A","k":"t","t":6.0816,"v":7.560,"s":"nástřik 0 µl"},
{"p":"A","k":"pk","t":6.867,"v":8.355,"s":"+6.8860236"},
{"p":"B","k":"n","t":2.7263,"v":3.246,"s":"Cpd 23: Caffeine: +ESI MRM Frag=380.0V CF=0.000 DF=0.000 CID@20.0 (195.1000 -> 138.0000) ALS"},
{"p":"B","k":"n","t":2.5732,"v":3.205,"s":"x10\u00a0\u00a0\u00a0\u00a0\u00a0⁴"},
{"p":"B","k":"t","t":2.7655,"v":2.719,"s":"Kofein"},{"p":"B","k":"t","t":2.7655,"v":2.390,"s":"Pozadí mobilní fáze"},{"p":"B","k":"t","t":2.7655,"v":2.071,"s":"nástřik 0 µl"},
{"p":"B","k":"pk","t":3.8686,"v":2.508,"s":"3.8870197120"},
{"p":"C","k":"n","t":4.8752,"v":10.026,"s":"+ESI MRM Frag=380.0V CF=0.000 DF=0.000 CID@24.0 (237.1000 -> 194.1000) ALS - Blank SZU - 0uL - Carbamazepine"},
{"p":"C","k":"n","t":4.765,"v":9.834,"s":"x10\u00a0\u00a0\u00a0\u00a0\u00a0²"},
{"p":"C","k":"t","t":4.9236,"v":7.997,"s":"Carbamazepine"},{"p":"C","k":"t","t":4.9236,"v":6.935,"s":"Pozadí mobilní fáze"},{"p":"C","k":"t","t":4.9236,"v":5.803,"s":"Nástřik 0 µl"},
{"p":"C","k":"pk","t":5.648,"v":7.614,"s":"+5.65285176"},{"p":"C","k":"pk","t":6.0327,"v":1.708,"s":"6.03"},
{"p":"D","k":"n","t":6.0431,"v":1.218,"s":"-ESI MRM Frag=380.0V CF=0.000 DF=0.000 CID@4.0 (205.1000 -> 159.1000) ALS - Blank SZU - 100ul - Ibuprofen"},
{"p":"D","k":"n","t":5.9148,"v":1.179,"s":"x10\u00a0\u00a0\u00a0\u00a0\u00a0³"},
{"p":"D","k":"t","t":6.0847,"v":1.0,"s":"Ibuprofen"},{"p":"D","k":"t","t":6.0847,"v":0.864,"s":"DI voda"},{"p":"D","k":"t","t":6.0847,"v":0.725,"s":"Nástřik 100 µl"},
{"p":"D","k":"pk","t":6.7776,"v":0.910,"s":"6.79483387"},{"p":"D","k":"pk","t":6.9461,"v":0.136,"s":"6.9638352"},
{"p":"E","k":"n","t":2.7278,"v":1.378,"s":"Cpd 23: Caffeine: +ESI MRM Frag=380.0V CF=0.000 DF=0.000 CID@20.0 (195.1000 -> 138.0000) ALS"},
{"p":"E","k":"n","t":2.5732,"v":1.358,"s":"x10\u00a0\u00a0\u00a0\u00a0\u00a0⁵"},
{"p":"E","k":"t","t":2.7603,"v":1.109,"s":"Kofein"},{"p":"E","k":"t","t":2.7603,"v":0.949,"s":"DI voda"},{"p":"E","k":"t","t":2.7603,"v":0.794,"s":"Nástřik 100 µl"},
{"p":"E","k":"pk","t":3.6077,"v":1.042,"s":"3.6280399620"},{"p":"E","k":"pk","t":3.9428,"v":0.394,"s":"3.9590308857"},
{"p":"F","k":"n","t":4.8882,"v":2.377,"s":"+ESI MRM Frag=380.0V CF=0.000 DF=0.000 CID@24.0 (237.1000 -> 194.1000) ALS - Blank SZU - 100ul - Carbamazepine"},
{"p":"F","k":"n","t":4.765,"v":2.327,"s":"x10\u00a0\u00a0\u00a0\u00a0\u00a0³"},
{"p":"F","k":"t","t":4.9197,"v":1.872,"s":"Carbamazepine"},{"p":"F","k":"t","t":4.9197,"v":1.618,"s":"DI voda"},{"p":"F","k":"t","t":4.9197,"v":1.356,"s":"Nástřik 100 µl"},
{"p":"F","k":"pk","t":5.7835,"v":1.781,"s":"5.790812730"},{"p":"F","k":"pk","t":5.5709,"v":0.202,"s":"5.5582"},
{"p":"G","k":"n","t":6.0431,"v":2.040,"s":"-ESI MRM Frag=380.0V CF=0.000 DF=0.000 CID@4.0 (205.1000 -> 159.1000) ALS STD 1 - 100uL - MF2"},
{"p":"G","k":"n","t":5.9148,"v":2.059,"s":"x10\u00a0\u00a0\u00a0\u00a0\u00a0²"},
{"p":"G","k":"t","t":6.0816,"v":1.826,"s":"Ibuprofen"},{"p":"G","k":"t","t":6.0816,"v":1.629,"s":"STD 1 ng/l"},
{"p":"G","k":"pk","t":6.7628,"v":1.659,"s":"6.7798382"},{"p":"G","k":"pk","t":6.9372,"v":1.059,"s":"+6.9568217"},
{"p":"H","k":"n","t":2.7278,"v":3.869,"s":"Cpd 23: Caffeine: +ESI MRM Frag=380.0V CF=0.000 DF=0.000 CID@20.0 (195.1000 -> 138.0000) ALS"},
{"p":"H","k":"n","t":2.5732,"v":3.846,"s":"x10\u00a0\u00a0\u00a0\u00a0\u00a0⁴"},
{"p":"H","k":"t","t":2.7572,"v":3.207,"s":"Kofein"},{"p":"H","k":"t","t":2.7572,"v":2.808,"s":"STD 1 ng/l"},
{"p":"H","k":"pk","t":3.6212,"v":2.976,"s":"3.642894929"},{"p":"H","k":"pk","t":3.9510,"v":2.976,"s":"3.9738211809"},
{"p":"I","k":"n","t":4.8882,"v":9.480,"s":"+ESI MRM Frag=380.0V CF=0.000 DF=0.000 CID@24.0 (237.1000 -> 194.1000) ALS STD 1 - 100uL - MF2"},
{"p":"I","k":"n","t":4.765,"v":9.214,"s":"x10\u00a0\u00a0\u00a0\u00a0\u00a0³"},
{"p":"I","k":"t","t":4.9197,"v":7.701,"s":"Carbamazepine"},{"p":"I","k":"t","t":4.9197,"v":6.594,"s":"STD 1 ng/l"},
{"p":"I","k":"pk","t":5.5535,"v":7.139,"s":"+5.558826948"},{"p":"I","k":"pk","t":5.7898,"v":0.847,"s":"5.77584900"}
]
},
"concat": [
{"width": 289, "height": 165,
 "encoding": {"x": {"field": "t", "type": "quantitative", "scale": {"domain": [6.04, 7.332], "nice": false, "zero": false}, "axis": null},
  "y": {"field": "v", "type": "quantitative", "scale": {"domain": [4.074, 9.926], "nice": false, "zero": false}, "axis": {"values": [4.5,5,5.5,6,6.5,7,7.5,8,8.5,9], "labelExpr": "'' + floor(datum.value)", "domain": false, "grid": false, "title": null, "offset": 2, "tickSize": 2, "tickColor": "#000", "labelFontSize": 7, "labelColor": "#000", "labelPadding": 1}}},
 "layer": [
  {"data": {"name": "areas"}, "transform": [{"filter": "datum.p == 'A'"}], "mark": {"type": "area", "color": "#c8f0c8", "interpolate": "monotone"}, "encoding": {"y2": {"field": "b"}, "detail": {"field": "k", "type": "nominal"}}},
  {"data": {"name": "base"}, "transform": [{"filter": "datum.p == 'A'"}], "mark": {"type": "line", "color": "#33cc33", "strokeWidth": 1}, "encoding": {"detail": {"field": "k", "type": "nominal"}}},
  {"data": {"name": "trace"}, "transform": [{"filter": "datum.p == 'A'"}], "mark": {"type": "line", "color": "#33cc33", "strokeWidth": 1, "interpolate": "monotone"}},
  {"data": {"name": "axl"}, "transform": [{"filter": "datum.p == 'A'"}], "mark": {"type": "rule", "color": "#000"}, "encoding": {"y2": {"field": "v2"}}},
  {"data": {"name": "txt"}, "transform": [{"filter": "datum.p == 'A' && datum.k == 'n'"}], "mark": {"type": "text", "align": "left", "baseline": "middle", "fontSize": 6, "color": "#333", "limit": 288, "ellipsis": ""}, "encoding": {"text": {"field": "s"}}},
  {"data": {"name": "txt"}, "transform": [{"filter": "datum.p == 'A' && datum.k == 't'"}], "mark": {"type": "text", "align": "left", "baseline": "middle", "font": "Lato", "fontWeight": "bold", "fontSize": 13.3, "color": "#000"}, "encoding": {"text": {"field": "s"}}},
  {"data": {"name": "txt"}, "transform": [{"filter": "datum.p == 'A' && datum.k == 'pk'"}], "mark": {"type": "text", "align": "left", "baseline": "middle", "fontSize": 6.3, "color": "#5fd65f"}, "encoding": {"text": {"field": "s"}}}
 ]},
{"width": 296, "height": 165,
 "encoding": {"x": {"field": "t", "type": "quantitative", "scale": {"domain": [2.7227, 4.2485], "nice": false, "zero": false}, "axis": null},
  "y": {"field": "v", "type": "quantitative", "scale": {"domain": [0.379, 3.349], "nice": false, "zero": false}, "axis": {"values": [0.5,0.75,1,1.25,1.5,1.75,2,2.25,2.5,2.75], "labelExpr": "'' + floor(datum.value)", "domain": false, "grid": false, "title": null, "offset": 2, "tickSize": 2, "tickColor": "#000", "labelFontSize": 7, "labelColor": "#000", "labelPadding": 1}}},
 "layer": [
  {"data": {"name": "areas"}, "transform": [{"filter": "datum.p == 'B'"}], "mark": {"type": "area", "color": "#b6dab6", "interpolate": "monotone"}, "encoding": {"y2": {"field": "b"}, "detail": {"field": "k", "type": "nominal"}}},
  {"data": {"name": "base"}, "transform": [{"filter": "datum.p == 'B'"}], "mark": {"type": "line", "color": "#1f8f1f", "strokeWidth": 1}, "encoding": {"detail": {"field": "k", "type": "nominal"}}},
  {"data": {"name": "trace"}, "transform": [{"filter": "datum.p == 'B'"}], "mark": {"type": "line", "color": "#1f8f1f", "strokeWidth": 1, "interpolate": "monotone"}},
  {"data": {"name": "axl"}, "transform": [{"filter": "datum.p == 'B'"}], "mark": {"type": "rule", "color": "#000"}, "encoding": {"y2": {"field": "v2"}}},
  {"data": {"name": "txt"}, "transform": [{"filter": "datum.p == 'B' && datum.k == 'n'"}], "mark": {"type": "text", "align": "left", "baseline": "middle", "fontSize": 6, "color": "#333", "limit": 294, "ellipsis": ""}, "encoding": {"text": {"field": "s"}}},
  {"data": {"name": "txt"}, "transform": [{"filter": "datum.p == 'B' && datum.k == 't'"}], "mark": {"type": "text", "align": "left", "baseline": "middle", "font": "Lato", "fontWeight": "bold", "fontSize": 13.3, "color": "#000"}, "encoding": {"text": {"field": "s"}}},
  {"data": {"name": "txt"}, "transform": [{"filter": "datum.p == 'B' && datum.k == 'pk'"}], "mark": {"type": "text", "align": "left", "baseline": "middle", "fontSize": 6.3, "color": "#3da63d"}, "encoding": {"text": {"field": "s"}}}
 ]},
{"width": 308, "height": 165,
 "encoding": {"x": {"field": "t", "type": "quantitative", "scale": {"domain": [4.8791, 6.0917], "nice": false, "zero": false}, "axis": null},
  "y": {"field": "v", "type": "quantitative", "scale": {"domain": [-0.211, 10.345], "nice": false, "zero": false}, "axis": {"values": [0,1,2,3,4,5,6,7,8], "labelExpr": "'' + floor(datum.value)", "domain": false, "grid": false, "title": null, "offset": 2, "tickSize": 2, "tickColor": "#000", "labelFontSize": 7, "labelColor": "#000", "labelPadding": 1}}},
 "layer": [
  {"data": {"name": "areas"}, "transform": [{"filter": "datum.p == 'C'"}], "mark": {"type": "area", "color": "#bcbcbc", "interpolate": "monotone"}, "encoding": {"y2": {"field": "b"}, "detail": {"field": "k", "type": "nominal"}}},
  {"data": {"name": "base"}, "transform": [{"filter": "datum.p == 'C'"}], "mark": {"type": "line", "color": "#000", "strokeWidth": 1}, "encoding": {"detail": {"field": "k", "type": "nominal"}}},
  {"data": {"name": "trace"}, "transform": [{"filter": "datum.p == 'C'"}], "mark": {"type": "line", "color": "#000", "strokeWidth": 1, "interpolate": "monotone"}},
  {"data": {"name": "axl"}, "transform": [{"filter": "datum.p == 'C'"}], "mark": {"type": "rule", "color": "#000"}, "encoding": {"y2": {"field": "v2"}}},
  {"data": {"name": "txt"}, "transform": [{"filter": "datum.p == 'C' && datum.k == 'n'"}], "mark": {"type": "text", "align": "left", "baseline": "middle", "fontSize": 6, "color": "#333", "limit": 305, "ellipsis": ""}, "encoding": {"text": {"field": "s"}}},
  {"data": {"name": "txt"}, "transform": [{"filter": "datum.p == 'C' && datum.k == 't'"}], "mark": {"type": "text", "align": "left", "baseline": "middle", "font": "Lato", "fontWeight": "bold", "fontSize": 13.3, "color": "#000"}, "encoding": {"text": {"field": "s"}}},
  {"data": {"name": "txt"}, "transform": [{"filter": "datum.p == 'C' && datum.k == 'pk'"}], "mark": {"type": "text", "align": "left", "baseline": "middle", "fontSize": 6.3, "color": "#333"}, "encoding": {"text": {"field": "s"}}}
 ]},
{"width": 289, "height": 165,
 "encoding": {"x": {"field": "t", "type": "quantitative", "scale": {"domain": [6.04, 7.332], "nice": false, "zero": false}, "axis": null},
  "y": {"field": "v", "type": "quantitative", "scale": {"domain": [-0.023, 1.246], "nice": false, "zero": false}, "axis": {"values": [0,0.2,0.4,0.6,0.8,1], "labelExpr": "'' + floor(datum.value)", "domain": false, "grid": false, "title": null, "offset": 2, "tickSize": 2, "tickColor": "#000", "labelFontSize": 7, "labelColor": "#000", "labelPadding": 1}}},
 "layer": [
  {"data": {"name": "areas"}, "transform": [{"filter": "datum.p == 'D'"}], "mark": {"type": "area", "color": "#c4ddf7", "interpolate": "monotone"}, "encoding": {"y2": {"field": "b"}, "detail": {"field": "k", "type": "nominal"}}},
  {"data": {"name": "base"}, "transform": [{"filter": "datum.p == 'D'"}], "mark": {"type": "line", "color": "#3399ff", "strokeWidth": 1}, "encoding": {"detail": {"field": "k", "type": "nominal"}}},
  {"data": {"name": "trace"}, "transform": [{"filter": "datum.p == 'D'"}], "mark": {"type": "line", "color": "#3399ff", "strokeWidth": 1, "interpolate": "monotone"}},
  {"data": {"name": "axl"}, "transform": [{"filter": "datum.p == 'D'"}], "mark": {"type": "rule", "color": "#000"}, "encoding": {"y2": {"field": "v2"}}},
  {"data": {"name": "txt"}, "transform": [{"filter": "datum.p == 'D' && datum.k == 'n'"}], "mark": {"type": "text", "align": "left", "baseline": "middle", "fontSize": 6, "color": "#333", "limit": 288, "ellipsis": ""}, "encoding": {"text": {"field": "s"}}},
  {"data": {"name": "txt"}, "transform": [{"filter": "datum.p == 'D' && datum.k == 't'"}], "mark": {"type": "text", "align": "left", "baseline": "middle", "font": "Lato", "fontWeight": "bold", "fontSize": 13.3, "color": "#000"}, "encoding": {"text": {"field": "s"}}},
  {"data": {"name": "txt"}, "transform": [{"filter": "datum.p == 'D' && datum.k == 'pk'"}], "mark": {"type": "text", "align": "left", "baseline": "middle", "fontSize": 6.3, "color": "#4da6ff"}, "encoding": {"text": {"field": "s"}}}
 ]},
{"width": 296, "height": 165,
 "encoding": {"x": {"field": "t", "type": "quantitative", "scale": {"domain": [2.7227, 4.2485], "nice": false, "zero": false}, "axis": null},
  "y": {"field": "v", "type": "quantitative", "scale": {"domain": [-0.003, 1.448], "nice": false, "zero": false}, "axis": {"values": [0,0.2,0.4,0.6,0.8,1,1.2], "labelExpr": "'' + floor(datum.value)", "domain": false, "grid": false, "title": null, "offset": 2, "tickSize": 2, "tickColor": "#000", "labelFontSize": 7, "labelColor": "#000", "labelPadding": 1}}},
 "layer": [
  {"data": {"name": "areas"}, "transform": [{"filter": "datum.p == 'E'"}], "mark": {"type": "area", "color": "#dcb9dc", "interpolate": "monotone"}, "encoding": {"y2": {"field": "b"}, "detail": {"field": "k", "type": "nominal"}}},
  {"data": {"name": "base"}, "transform": [{"filter": "datum.p == 'E'"}], "mark": {"type": "line", "color": "#8b1a8b", "strokeWidth": 1}, "encoding": {"detail": {"field": "k", "type": "nominal"}}},
  {"data": {"name": "trace"}, "transform": [{"filter": "datum.p == 'E'"}], "mark": {"type": "line", "color": "#8b1a8b", "strokeWidth": 1, "interpolate": "monotone"}},
  {"data": {"name": "axl"}, "transform": [{"filter": "datum.p == 'E'"}], "mark": {"type": "rule", "color": "#000"}, "encoding": {"y2": {"field": "v2"}}},
  {"data": {"name": "txt"}, "transform": [{"filter": "datum.p == 'E' && datum.k == 'n'"}], "mark": {"type": "text", "align": "left", "baseline": "middle", "fontSize": 6, "color": "#333", "limit": 294, "ellipsis": ""}, "encoding": {"text": {"field": "s"}}},
  {"data": {"name": "txt"}, "transform": [{"filter": "datum.p == 'E' && datum.k == 't'"}], "mark": {"type": "text", "align": "left", "baseline": "middle", "font": "Lato", "fontWeight": "bold", "fontSize": 13.3, "color": "#000"}, "encoding": {"text": {"field": "s"}}},
  {"data": {"name": "txt"}, "transform": [{"filter": "datum.p == 'E' && datum.k == 'pk'"}], "mark": {"type": "text", "align": "left", "baseline": "middle", "fontSize": 6.3, "color": "#a044a0"}, "encoding": {"text": {"field": "s"}}}
 ]},
{"width": 308, "height": 165,
 "encoding": {"x": {"field": "t", "type": "quantitative", "scale": {"domain": [4.8791, 6.0917], "nice": false, "zero": false}, "axis": null},
  "y": {"field": "v", "type": "quantitative", "scale": {"domain": [-0.071, 2.434], "nice": false, "zero": false}, "axis": {"values": [0,0.25,0.5,0.75,1,1.25,1.5,1.75,2], "labelExpr": "'' + floor(datum.value)", "domain": false, "grid": false, "title": null, "offset": 2, "tickSize": 2, "tickColor": "#000", "labelFontSize": 7, "labelColor": "#000", "labelPadding": 1}}},
 "layer": [
  {"data": {"name": "areas"}, "transform": [{"filter": "datum.p == 'F'"}], "mark": {"type": "area", "color": "#ffbcbc", "interpolate": "monotone"}, "encoding": {"y2": {"field": "b"}, "detail": {"field": "k", "type": "nominal"}}},
  {"data": {"name": "base"}, "transform": [{"filter": "datum.p == 'F'"}], "mark": {"type": "line", "color": "#ff2a2a", "strokeWidth": 1}, "encoding": {"detail": {"field": "k", "type": "nominal"}}},
  {"data": {"name": "trace"}, "transform": [{"filter": "datum.p == 'F'"}], "mark": {"type": "line", "color": "#ff2a2a", "strokeWidth": 1, "interpolate": "monotone"}},
  {"data": {"name": "axl"}, "transform": [{"filter": "datum.p == 'F'"}], "mark": {"type": "rule", "color": "#000"}, "encoding": {"y2": {"field": "v2"}}},
  {"data": {"name": "txt"}, "transform": [{"filter": "datum.p == 'F' && datum.k == 'n'"}], "mark": {"type": "text", "align": "left", "baseline": "middle", "fontSize": 6, "color": "#333", "limit": 305, "ellipsis": ""}, "encoding": {"text": {"field": "s"}}},
  {"data": {"name": "txt"}, "transform": [{"filter": "datum.p == 'F' && datum.k == 't'"}], "mark": {"type": "text", "align": "left", "baseline": "middle", "font": "Lato", "fontWeight": "bold", "fontSize": 13.3, "color": "#000"}, "encoding": {"text": {"field": "s"}}},
  {"data": {"name": "txt"}, "transform": [{"filter": "datum.p == 'F' && datum.k == 'pk'"}], "mark": {"type": "text", "align": "left", "baseline": "middle", "fontSize": 6.3, "color": "#ff5050"}, "encoding": {"text": {"field": "s"}}}
 ]},
{"width": 289, "height": 160,
 "encoding": {"x": {"field": "t", "type": "quantitative", "scale": {"domain": [6.04, 7.332], "nice": false, "zero": false}, "axis": {"values": [6.1,6.2,6.3,6.4,6.5,6.6,6.7,6.8,6.9,7,7.1,7.2,7.3], "format": "~g", "grid": false, "labelOverlap": false, "labelFlush": false, "domainColor": "#000", "tickColor": "#000", "tickSize": 3, "tickOffset": -4, "labelOffset": 4, "labelFontSize": 6.5, "labelColor": "#333", "labelPadding": 2, "offset": 3, "title": "Counts vs. Acquisition Time (min)", "titleFontSize": 6.5, "titleFontWeight": "normal", "titleColor": "#333", "titleAnchor": "start", "titleAlign": "left", "titleBaseline": "middle", "titleX": -2, "titleY": 22}},
  "y": {"field": "v", "type": "quantitative", "scale": {"domain": [0.370, 2.148], "nice": false, "zero": false}, "axis": {"values": [0.4,0.6,0.8,1,1.2,1.4,1.6,1.8], "labelExpr": "'' + floor(datum.value)", "domain": false, "grid": false, "title": null, "offset": 2, "tickSize": 2, "tickColor": "#000", "labelFontSize": 7, "labelColor": "#000", "labelPadding": 1}}},
 "layer": [
  {"data": {"name": "areas"}, "transform": [{"filter": "datum.p == 'G'"}], "mark": {"type": "area", "color": "#fdd9b0", "interpolate": "monotone"}, "encoding": {"y2": {"field": "b"}, "detail": {"field": "k", "type": "nominal"}}},
  {"data": {"name": "base"}, "transform": [{"filter": "datum.p == 'G'"}], "mark": {"type": "line", "color": "#ff9a33", "strokeWidth": 1}, "encoding": {"detail": {"field": "k", "type": "nominal"}}},
  {"data": {"name": "trace"}, "transform": [{"filter": "datum.p == 'G'"}], "mark": {"type": "line", "color": "#ff9a33", "strokeWidth": 1, "interpolate": "monotone"}},
  {"data": {"name": "axl"}, "transform": [{"filter": "datum.p == 'G'"}], "mark": {"type": "rule", "color": "#000"}, "encoding": {"y2": {"field": "v2"}}},
  {"data": {"name": "txt"}, "transform": [{"filter": "datum.p == 'G' && datum.k == 'n'"}], "mark": {"type": "text", "align": "left", "baseline": "middle", "fontSize": 6, "color": "#333", "limit": 288, "ellipsis": ""}, "encoding": {"text": {"field": "s"}}},
  {"data": {"name": "txt"}, "transform": [{"filter": "datum.p == 'G' && datum.k == 't'"}], "mark": {"type": "text", "align": "left", "baseline": "middle", "font": "Lato", "fontWeight": "bold", "fontSize": 13.3, "color": "#000"}, "encoding": {"text": {"field": "s"}}},
  {"data": {"name": "txt"}, "transform": [{"filter": "datum.p == 'G' && datum.k == 'pk'"}], "mark": {"type": "text", "align": "left", "baseline": "middle", "fontSize": 6.3, "color": "#ffa64d"}, "encoding": {"text": {"field": "s"}}}
 ]},
{"width": 296, "height": 160,
 "encoding": {"x": {"field": "t", "type": "quantitative", "scale": {"domain": [2.7227, 4.2485], "nice": false, "zero": false}, "axis": {"values": [2.8,2.9,3,3.1,3.2,3.3,3.4,3.5,3.6,3.7,3.8,3.9,4,4.1,4.2], "format": "~g", "grid": false, "labelOverlap": false, "labelFlush": false, "domainColor": "#000", "tickColor": "#000", "tickSize": 4, "tickOffset": -5, "labelOffset": 5, "labelFontSize": 6.5, "labelColor": "#333", "labelPadding": 2, "offset": 7, "title": "Counts vs. Acquisition Time (min)", "titleFontSize": 6.5, "titleFontWeight": "normal", "titleColor": "#333", "titleAnchor": "start", "titleAlign": "left", "titleBaseline": "middle", "titleX": -2, "titleY": 17}},
  "y": {"field": "v", "type": "quantitative", "scale": {"domain": [0.362, 4.054], "nice": false, "zero": false}, "axis": {"values": [0.5,1,1.5,2,2.5,3], "labelExpr": "'' + floor(datum.value)", "domain": false, "grid": false, "title": null, "offset": 2, "tickSize": 2, "tickColor": "#000", "labelFontSize": 7, "labelColor": "#000", "labelPadding": 1}}},
 "layer": [
  {"data": {"name": "areas"}, "transform": [{"filter": "datum.p == 'H'"}], "mark": {"type": "area", "color": "#c9efc9", "interpolate": "monotone"}, "encoding": {"y2": {"field": "b"}, "detail": {"field": "k", "type": "nominal"}}},
  {"data": {"name": "base"}, "transform": [{"filter": "datum.p == 'H'"}], "mark": {"type": "line", "color": "#46c846", "strokeWidth": 1}, "encoding": {"detail": {"field": "k", "type": "nominal"}}},
  {"data": {"name": "trace"}, "transform": [{"filter": "datum.p == 'H'"}], "mark": {"type": "line", "color": "#46c846", "strokeWidth": 1, "interpolate": "monotone"}},
  {"data": {"name": "axl"}, "transform": [{"filter": "datum.p == 'H'"}], "mark": {"type": "rule", "color": "#000"}, "encoding": {"y2": {"field": "v2"}}},
  {"data": {"name": "txt"}, "transform": [{"filter": "datum.p == 'H' && datum.k == 'n'"}], "mark": {"type": "text", "align": "left", "baseline": "middle", "fontSize": 6, "color": "#333", "limit": 294, "ellipsis": ""}, "encoding": {"text": {"field": "s"}}},
  {"data": {"name": "txt"}, "transform": [{"filter": "datum.p == 'H' && datum.k == 't'"}], "mark": {"type": "text", "align": "left", "baseline": "middle", "font": "Lato", "fontWeight": "bold", "fontSize": 13.3, "color": "#000"}, "encoding": {"text": {"field": "s"}}},
  {"data": {"name": "txt"}, "transform": [{"filter": "datum.p == 'H' && datum.k == 'pk'"}], "mark": {"type": "text", "align": "left", "baseline": "middle", "fontSize": 6.3, "color": "#5ccf5c"}, "encoding": {"text": {"field": "s"}}}
 ]},
{"width": 308, "height": 160,
 "encoding": {"x": {"field": "t", "type": "quantitative", "scale": {"domain": [4.8791, 6.0917], "nice": false, "zero": false}, "axis": {"values": [4.9,5,5.1,5.2,5.3,5.4,5.5,5.6,5.7,5.8,5.9,6], "labelExpr": "datum.value < 4.95 ? '' : format(datum.value, '~g')", "grid": false, "labelOverlap": false, "labelFlush": false, "domainColor": "#000", "tickColor": "#000", "tickSize": 3, "tickOffset": -4, "labelOffset": 4, "labelFontSize": 6.5, "labelColor": "#333", "labelPadding": 2, "offset": 3, "title": "Counts vs. Acquisition Time (min)", "titleFontSize": 6.5, "titleFontWeight": "normal", "titleColor": "#333", "titleAnchor": "start", "titleAlign": "left", "titleBaseline": "middle", "titleX": -2, "titleY": 18}},
  "y": {"field": "v", "type": "quantitative", "scale": {"domain": [-0.121, 9.558], "nice": false, "zero": false}, "axis": {"values": [0,1,2,3,4,5,6,7,8], "labelExpr": "'' + floor(datum.value)", "domain": false, "grid": false, "title": null, "offset": 2, "tickSize": 2, "tickColor": "#000", "labelFontSize": 7, "labelColor": "#000", "labelPadding": 1}}},
 "layer": [
  {"data": {"name": "areas"}, "transform": [{"filter": "datum.p == 'I'"}], "mark": {"type": "area", "color": "#b8dab8", "interpolate": "monotone"}, "encoding": {"y2": {"field": "b"}, "detail": {"field": "k", "type": "nominal"}}},
  {"data": {"name": "base"}, "transform": [{"filter": "datum.p == 'I'"}], "mark": {"type": "line", "color": "#2b8b2b", "strokeWidth": 1}, "encoding": {"detail": {"field": "k", "type": "nominal"}}},
  {"data": {"name": "trace"}, "transform": [{"filter": "datum.p == 'I'"}], "mark": {"type": "line", "color": "#2b8b2b", "strokeWidth": 1, "interpolate": "monotone"}},
  {"data": {"name": "axl"}, "transform": [{"filter": "datum.p == 'I'"}], "mark": {"type": "rule", "color": "#000"}, "encoding": {"y2": {"field": "v2"}}},
  {"data": {"name": "txt"}, "transform": [{"filter": "datum.p == 'I' && datum.k == 'n'"}], "mark": {"type": "text", "align": "left", "baseline": "middle", "fontSize": 6, "color": "#333", "limit": 305, "ellipsis": ""}, "encoding": {"text": {"field": "s"}}},
  {"data": {"name": "txt"}, "transform": [{"filter": "datum.p == 'I' && datum.k == 't'"}], "mark": {"type": "text", "align": "left", "baseline": "middle", "font": "Lato", "fontWeight": "bold", "fontSize": 13.3, "color": "#000"}, "encoding": {"text": {"field": "s"}}},
  {"data": {"name": "txt"}, "transform": [{"filter": "datum.p == 'I' && datum.k == 'pk'"}], "mark": {"type": "text", "align": "left", "baseline": "middle", "fontSize": 6.3, "color": "#3a9e3a"}, "encoding": {"text": {"field": "s"}}}
 ]}
]
}
